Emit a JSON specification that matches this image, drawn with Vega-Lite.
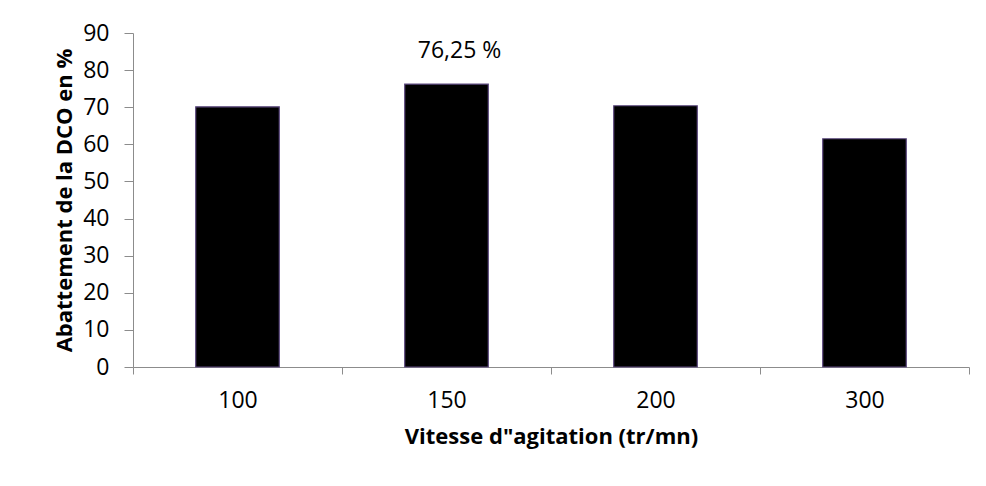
{
  "$schema": "https://vega.github.io/schema/vega-lite/v6.json",
  "autosize": {"type": "none"},
  "padding": {"left": 133, "top": 33, "right": 17, "bottom": 119},
  "width": 836,
  "height": 334,
  "background": "white",
  "config": {
    "view": {"stroke": null},
    "font": "Open Sans",
    "axis": {"labelFont": "Open Sans", "titleFont": "Open Sans", "labelColor": "black", "titleColor": "black", "domainColor": "#8c8c8c", "tickColor": "#8c8c8c", "grid": false, "labelOverlap": false}
  },
  "data": {"values": [
    {"vitesse": "100", "abattement": 70.1, "label": ""},
    {"vitesse": "150", "abattement": 76.25, "label": "76,25 %"},
    {"vitesse": "200", "abattement": 70.4, "label": ""},
    {"vitesse": "300", "abattement": 61.5, "label": ""}
  ]},
  "encoding": {
    "x": {"field": "vitesse", "type": "nominal", "sort": null,
      "scale": {"paddingInner": 0, "paddingOuter": 0},
      "axis": {"title": "Vitesse d\"agitation (tr/mn)", "labelAngle": 0, "labelFontSize": 23, "titleFontSize": 22, "titleFontWeight": "bold", "tickBand": "extent", "tickSize": 7, "labelPadding": 15, "titlePadding": 14}},
    "y": {"field": "abattement", "type": "quantitative",
      "scale": {"domain": [0, 90], "nice": false},
      "axis": {"title": "Abattement de la DCO en %", "values": [0,10,20,30,40,50,60,70,80,90], "labelOverlap": false, "labelFontSize": 23, "titleFontSize": 22, "titleFontWeight": "bold", "tickSize": 9, "labelPadding": 15, "titlePadding": 6}}
  },
  "layer": [
    {
      "mark": {"type": "bar", "color": "black", "stroke": "#5e4b80", "strokeWidth": 1.2, "width": {"band": 0.4}}
    },
    {
      "mark": {"type": "text", "fontSize": 23, "font": "Open Sans", "color": "black", "dx": 13, "dy": -33},
      "encoding": {
        "text": {"field": "label"}
      }
    }
  ]
}
